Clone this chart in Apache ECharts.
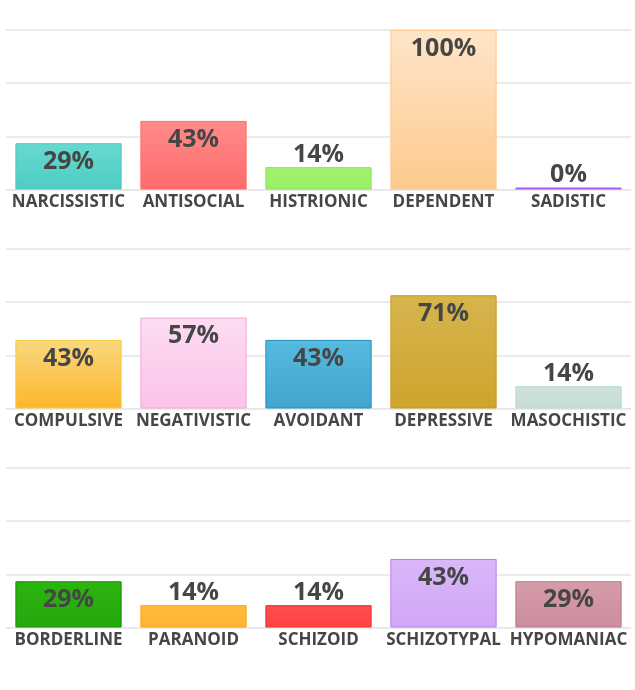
<!DOCTYPE html>
<html>
<head>
<meta charset="utf-8">
<script src="https://cdn.jsdelivr.net/npm/echarts@6/dist/echarts.min.js"></script>
<style>
  html, body { margin: 0; padding: 0; background: #fff; }
  #chart { width: 635px; height: 690px; }
</style>
</head>
<body>
<div id="chart"></div>
<script>
// one row per panel
const cats1 = ["NARCISSISTIC", "ANTISOCIAL", "HISTRIONIC", "DEPENDENT", "SADISTIC"];
const cats2 = ["COMPULSIVE", "NEGATIVISTIC", "AVOIDANT", "DEPRESSIVE", "MASOCHISTIC"];
const cats3 = ["BORDERLINE", "PARANOID", "SCHIZOID", "SCHIZOTYPAL", "HYPOMANIAC"];

const vals1 = [29, 43, 14, 100, 0];
const vals2 = [43, 57, 43, 71, 14];
const vals3 = [29, 14, 14, 43, 29];

const yTicks = [0, 33.33, 66.67, 100];

// [top, bottom, border]
const colors1 = [
  ["#67d9ce", "#4ecdc4", "#4fc9bd"],
  ["#ff8b8b", "#ff6b6b", "#ff6b6b"],
  ["#a2f26e", "#9af066", "#8ee060"],
  ["#ffe5c8", "#fdca8e", "#fdc98a"],
  ["#b36bff", "#b36bff", "#a855f7"],
];
const colors2 = [
  ["#f9d87f", "#fdb62c", "#f5cf3a"],
  ["#fddcf3", "#fbc3e8", "#f2a8d8"],
  ["#56b9de", "#42a5ce", "#1e8fc6"],
  ["#d6b54e", "#cfa42e", "#c99b1a"],
  ["#cde3da", "#c8ddd3", "#b5d8c9"],
];
const colors3 = [
  ["#2cb40f", "#24a90d", "#1a8a08"],
  ["#ffbc3e", "#ffb333", "#f5a510"],
  ["#ff4e4e", "#ff4343", "#ee3030"],
  ["#d9b7f8", "#d1a7f6", "#b57ff0"],
  ["#d69caa", "#cc8d9e", "#b8788e"],
];

const panels = [
  { cats: cats1, vals: vals1, colors: colors1, top: 30 },
  { cats: cats2, vals: vals2, colors: colors2, top: 249 },
  { cats: cats3, vals: vals3, colors: colors3, top: 468 },
];

const textColor = "#464646";
const font = "'Open Sans', 'Noto Sans', sans-serif";

const chart = echarts.init(document.getElementById("chart"));

chart.setOption({
  animation: false,
  grid: panels.map((p) => ({ left: 6, right: 4, top: p.top, height: 159.5 })),
  xAxis: panels.map((p, i) => ({
    type: "category",
    gridIndex: i,
    data: p.cats,
    axisTick: { show: false },
    axisLine: { lineStyle: { color: "#e6e6e6", width: 1 } },
    axisLabel: {
      interval: 0,
      margin: 4,
      color: textColor,
      fontSize: 17,
      fontWeight: "bold",
      fontFamily: font,
    },
  })),
  yAxis: panels.map((p, i) => ({
    type: "value",
    gridIndex: i,
    min: yTicks[0],
    max: yTicks[yTicks.length - 1],
    interval: 100 / 3,
    axisLabel: { show: false },
    axisLine: { show: false },
    axisTick: { show: false },
    splitLine: { lineStyle: { color: "#ebebeb", width: 2 } },
  })),
  series: panels.map((p, i) => ({
    type: "bar",
    xAxisIndex: i,
    yAxisIndex: i,
    barCategoryGap: "15%",
    barMinHeight: 2,
    data: p.vals.map((v, j) => ({
      value: v,
      itemStyle: {
        color: new echarts.graphic.LinearGradient(0, 0, 0, 1, [
          { offset: 0, color: p.colors[j][0] },
          { offset: 1, color: p.colors[j][1] },
        ]),
        borderColor: p.colors[j][2],
        borderWidth: 1,
      },
      label: {
        position: v >= 25 ? "insideTop" : "top",
        distance: v >= 25 ? 6 : 0,
      },
    })),
    label: {
      show: true,
      formatter: (d) => d.value + "%",
      color: textColor,
      fontSize: 25,
      fontWeight: "bold",
      fontFamily: font,
    },
  })),
});
</script>
</body>
</html>
